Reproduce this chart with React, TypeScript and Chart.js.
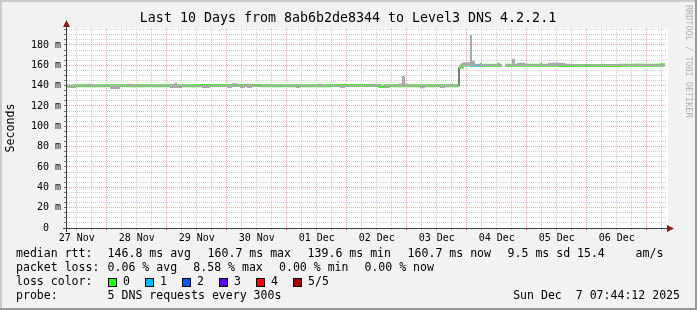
import React, { useEffect, useRef } from 'react';
import { Chart, registerables } from 'chart.js';

Chart.register(...registerables);

// ---------- text ----------
const TITLE = 'Last 10 Days from 8ab6b2de8344 to Level3 DNS 4.2.2.1';
const Y_TITLE = 'Seconds';
const WATERMARK = 'RRDTOOL / TOBI OETIKER';
const DAY_LABELS = ['27 Nov', '28 Nov', '29 Nov', '30 Nov', '01 Dec', '02 Dec', '03 Dec', '04 Dec', '05 Dec', '06 Dec'];
const RTT_LABEL = 'median rtt:';
const RTT_STATS = ['146.8 ms avg', '160.7 ms max', '139.6 ms min', '160.7 ms now', '9.5 ms sd', '15.4', 'am/s'];
const LOSS_LABEL = 'packet loss:';
const LOSS_STATS = ['0.06 % avg', '8.58 % max', '0.00 % min', '0.00 % now'];
const LOSS_COLOR_LABEL = 'loss color:';
const LOSS_LEVELS = ['0', '1', '2', '3', '4', '5/5'];
const LOSS_COLORS = ['#26ff00', '#00b8ff', '#0059ff', '#5e00ff', '#ff0000', '#a00000'];
const PROBE_LABEL = 'probe:';
const PROBE_TEXT = '5 DNS requests every 300s';
const STAMP = 'Sun Dec  7 07:44:12 2025';

// ---------- axes ----------
// time in hours since 27 Nov 00:00
const START_HOUR = 8.1;
const END_HOUR = 248.1;
const Y_MAX = 196.7; // ms

// ---------- median rtt (ms), one value per run starting at the hour ----------
const medianHours = [8.1, 11.3, 37.3, 61.3, 85.3, 113.3, 133.3, 135.3, 164.9, 166.1, 169.3, 173.7, 182.1, 183.3, 205.3, 229.3, 246.1, 247.3];
const medianValues = [139.4, 140.0, 139.8, 140.1, 139.9, 140.1, 139.2, 139.8, 158.0, 160.2, 160.0, 160.0, null, 160.0, 159.8, 160.0, 160.6, null];
const medianLoss = [0, 0, 0, 0, 0, 0, 0, 0, 0, 0, 1, 0, 0, 0, 0, 0, 0, 0];

// ---------- smoke (ping spread, ms) ----------
const smokeHours = [
  8.1, 9.3, 11.3, 16.1, 18.5, 25.3, 29.3, 32.1, 34.1, 49.3, 51.3, 52.1, 54.1, 62.1, 65.3, 72.1, 74.1, 76.1, 77.3, 79.3,
  80.1, 82.1, 99.7, 101.3, 108.5, 110.1, 117.3, 119.3, 129.3, 130.9, 135.3, 137.3, 140.5, 142.1, 143.3, 144.5, 149.3, 151.3, 157.3, 159.3,
  161.3, 162.5, 164.9, 166.1, 169.3, 170.1, 171.3, 173.3, 174.1, 176.1, 178.1, 180.1, 181.3, 182.1, 183.3, 184.1, 186.1, 187.3, 188.1, 191.3,
  192.5, 197.3, 198.1, 200.5, 207.3, 210.5, 222.1, 223.3, 226.1, 228.1, 230.1, 231.3, 235.3, 238.5, 240.5, 244.1, 247.3,
];
const smokeLow = [
  139, 137.8, 139, 139, 139, 136.8, 139, 139, 139, 137.8, 137.8, 137.8, 139, 137.8, 139, 137.8, 139, 139, 137.8, 139,
  137.8, 139, 137.8, 139, 139, 139, 137.8, 139, 139, 139, 137.8, 139, 139, 139, 139, 139, 137.4, 139, 137.8, 139,
  139, 139, 157, 159, 159, 159, 159, 159, 159, 159, 159, 159, 159, null, 159, 159, 159, 159, 159, 159,
  159, 159, 159, 159, 159, 159, 159, 159, 159, 159, 159, 159, 159, 159, 159, 159, null,
];
const smokeHigh = [
  141, 141, 141, 141.8, 141, 141, 141, 141.8, 141, 141.8, 143, 141, 141, 141, 141, 141, 142.3, 141, 141, 141,
  141.8, 141, 141, 141, 141.8, 141, 141, 141, 141.8, 141, 141, 141, 142, 149.5, 142, 141, 141, 141, 141, 141,
  141.8, 141, 160, 162.9, 189.8, 164.6, 161, 162.5, 161, 161.3, 161, 162.5, 161, null, 161.6, 161, 166.5, 161, 162.5, 161.6,
  161, 162.5, 161, 162.5, 161.6, 161, 161.6, 161, 161.3, 161, 161.3, 161, 161.6, 161, 161.3, 161, null,
];

type P = { x: number; y: number | null; i: number };

function buildRuns(hours: number[], values: (number | null)[]): P[] {
  const pts: P[] = [];
  for (let i = 0; i < hours.length; i++) {
    const v = values[i];
    if (v === null) {
      pts.push({ x: hours[i], y: null, i });
      continue;
    }
    const end = i + 1 < hours.length ? hours[i + 1] : END_HOUR;
    pts.push({ x: hours[i], y: v, i });
    pts.push({ x: end, y: v, i });
  }
  return pts;
}

const MONO = '"DejaVu Sans Mono", monospace';
const MAJOR = 'rgba(230,100,100,0.55)';
const MINOR = 'rgba(170,170,170,0.55)';

export default function App() {
  const ref = useRef<HTMLCanvasElement | null>(null);

  useEffect(() => {
    if (!ref.current) return;
    const medianPts = buildRuns(medianHours, medianValues);
    const lowPts = buildRuns(smokeHours, smokeLow);
    const highPts = buildRuns(smokeHours, smokeHigh);

    const isJump = (ctx: any) => {
      const a = medianPts[ctx.p0DataIndex];
      const b = medianPts[ctx.p1DataIndex];
      return a && b && a.x === b.x && a.y !== null && b.y !== null && Math.abs((a.y as number) - (b.y as number)) > 3;
    };

    const decor = {
      id: 'rrdDecor',
      beforeDraw(chart: any) {
        const c = chart.ctx;
        const { left, right, top, bottom } = chart.chartArea;
        c.save();
        c.fillStyle = '#f2f2f2';
        c.fillRect(0, 0, 697, 310);
        c.fillStyle = '#cbcbcb';
        c.fillRect(0, 0, 697, 2);
        c.fillRect(0, 0, 2, 310);
        c.fillStyle = '#999999';
        c.fillRect(0, 308, 697, 2);
        c.fillRect(695, 0, 2, 310);
        c.fillStyle = '#ffffff';
        c.fillRect(left - 1, top, right - left + 2, bottom - top);
        c.restore();
      },
      afterDraw(chart: any) {
        const c = chart.ctx;
        const { left, right, top, bottom } = chart.chartArea;
        c.save();
        // axes
        c.fillStyle = '#404040';
        c.fillRect(left - 1, top - 4, 1, bottom - top + 8);
        c.fillRect(left - 4, bottom, right - left + 10, 1);
        c.fillStyle = '#8b1a1a';
        c.beginPath();
        c.moveTo(left - 0.5, top - 8);
        c.lineTo(left - 4, top - 1);
        c.lineTo(left + 3, top - 1);
        c.closePath();
        c.fill();
        c.beginPath();
        c.moveTo(right + 7, bottom + 0.5);
        c.lineTo(right, bottom - 3);
        c.lineTo(right, bottom + 4);
        c.closePath();
        c.fill();

        // title
        c.fillStyle = '#000';
        c.font = '13.3px ' + MONO;
        c.textAlign = 'center';
        c.textBaseline = 'middle';
        c.fillText(TITLE, 348, 19);

        // y title
        c.save();
        c.translate(11, (top + bottom) / 2);
        c.rotate(-Math.PI / 2);
        c.font = '11.6px ' + MONO;
        c.fillText(Y_TITLE, 0, 0);
        c.restore();

        // watermark
        c.save();
        c.translate(688, 5);
        c.rotate(Math.PI / 2);
        c.font = '8.5px ' + MONO;
        c.fillStyle = '#b0b0b0';
        c.textAlign = 'left';
        c.fillText(WATERMARK, 0, 0);
        c.restore();

        // legend
        c.font = '11.55px ' + MONO;
        c.textAlign = 'left';
        c.fillStyle = '#000';
        const rttX = [107.6, 207.6, 307.6, 407.6, 507.6, 577, 635.6];
        c.fillText(RTT_LABEL, 16, 254);
        RTT_STATS.forEach((s, i) => c.fillText(s, rttX[i], 254));
        const lossX = [107.6, 193.3, 279, 364.4];
        c.fillText(LOSS_LABEL, 16, 268);
        LOSS_STATS.forEach((s, i) => c.fillText(s, lossX[i], 268));
        c.fillText(LOSS_COLOR_LABEL, 16, 282);
        LOSS_LEVELS.forEach((s, i) => {
          const bx = 108 + i * 37;
          c.fillStyle = LOSS_COLORS[i];
          c.fillRect(bx, 278, 9, 9);
          c.strokeStyle = '#000';
          c.lineWidth = 1;
          c.strokeRect(bx + 0.5, 278.5, 8, 8);
          c.fillStyle = '#000';
          c.fillText(s, bx + 15, 282);
        });
        c.fillText(PROBE_LABEL, 16, 296);
        c.fillText(PROBE_TEXT, 107.6, 296);
        c.textAlign = 'right';
        c.fillText(STAMP, 680, 296);
        c.restore();
      },
    };

    const chart = new Chart(ref.current, {
      type: 'line',
      data: {
        datasets: [
          {
            data: lowPts as any,
            borderWidth: 0,
            borderColor: 'rgba(0,0,0,0)',
            pointRadius: 0,
            fill: false,
            spanGaps: false,
          },
          {
            data: highPts as any,
            borderWidth: 0,
            borderColor: 'rgba(0,0,0,0)',
            backgroundColor: '#aaaaaa',
            pointRadius: 0,
            fill: '-1',
            spanGaps: false,
          },
          {
            data: medianPts as any,
            borderWidth: 3,
            borderColor: LOSS_COLORS[0],
            borderCapStyle: 'butt',
            borderJoinStyle: 'miter',
            pointRadius: 0,
            fill: false,
            spanGaps: false,
            segment: {
              borderColor: (ctx: any) => {
                if (isJump(ctx)) return '#000000';
                const a = medianPts[ctx.p0DataIndex];
                return LOSS_COLORS[medianLoss[a.i]];
              },
              borderWidth: (ctx: any) => (isJump(ctx) ? 1 : 3),
            },
          },
        ],
      },
      options: {
        responsive: false,
        animation: false,
        devicePixelRatio: 1,
        events: [],
        layout: { padding: { top: 28, right: 30, left: 0, bottom: 0 } },
        plugins: {
          legend: { display: false },
          tooltip: { enabled: false },
          title: { display: false },
        },
        scales: {
          x: {
            type: 'linear',
            min: START_HOUR,
            max: END_HOUR,
            afterBuildTicks: (scale: any) => {
              const t: any[] = [];
              for (let h = Math.ceil(START_HOUR / 6) * 6; h <= END_HOUR; h += 6) t.push({ value: h });
              scale.ticks = t;
            },
            afterFit: (scale: any) => {
              scale.height = 82;
            },
            ticks: {
              autoSkip: false,
              maxRotation: 0,
              minRotation: 0,
              padding: 2,
              color: '#000',
              font: { family: MONO, size: 10 },
              callback: (v: any) => {
                const n = Number(v);
                return n % 24 === 12 ? DAY_LABELS[(n - 12) / 24] ?? '' : '';
              },
            },
            grid: {
              color: (ctx: any) => (ctx.tick && ctx.tick.value % 24 === 0 ? MAJOR : MINOR),
              lineWidth: 1,
              drawTicks: true,
              tickLength: 2,
              tickColor: (ctx: any) => (ctx.tick && ctx.tick.value % 24 === 0 ? '#cc4444' : '#aaaaaa'),
            },
            border: { display: false, dash: [1, 1] },
          },
          y: {
            type: 'linear',
            min: 0,
            max: Y_MAX,
            afterBuildTicks: (scale: any) => {
              const t: any[] = [];
              for (let v = 0; v <= Y_MAX; v += 5) t.push({ value: v });
              scale.ticks = t;
            },
            afterFit: (scale: any) => {
              scale.width = 67;
            },
            ticks: {
              autoSkip: false,
              padding: 3,
              color: '#000',
              font: { family: MONO, size: 10 },
              callback: (v: any) => {
                const n = Number(v);
                if (n % 20 !== 0) return '';
                return n === 0 ? '0  ' : n + ' m';
              },
            },
            grid: {
              color: (ctx: any) => {
                const v = ctx.tick ? ctx.tick.value : 1;
                if (v === 0) return 'rgba(0,0,0,0)';
                return v % 20 === 0 ? MAJOR : MINOR;
              },
              lineWidth: 1,
              drawTicks: true,
              tickLength: 3,
              tickColor: '#777777',
            },
            border: { display: false, dash: [1, 1] },
          },
        },
      },
      plugins: [decor],
    } as any);

    return () => chart.destroy();
  }, []);

  return (
    <div style={{ position: 'absolute', left: 0, top: 0, width: 697, height: 310 }}>
      <canvas ref={ref} width={697} height={310} style={{ display: 'block', width: 697, height: 310 }} />
    </div>
  );
}
